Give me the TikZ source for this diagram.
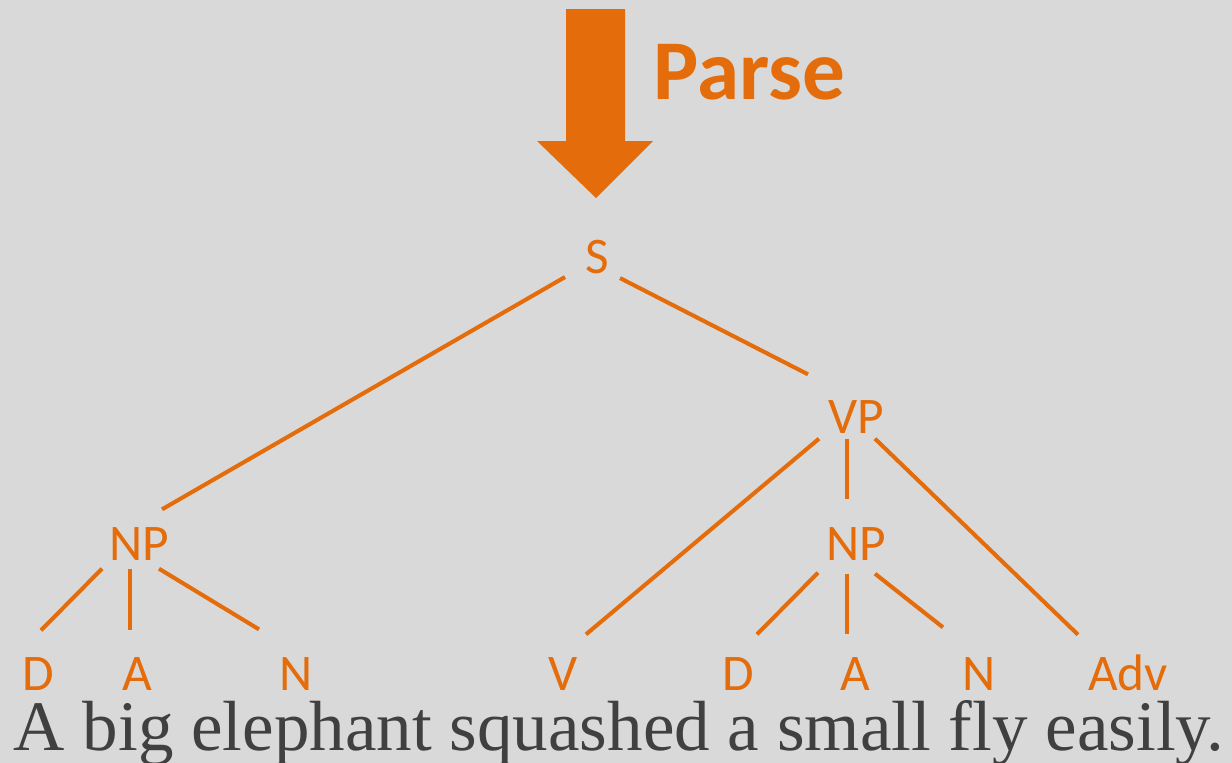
\documentclass[tikz,border=0pt]{standalone}
\usepackage{fontspec}
\setmainfont{Liberation Serif}
\newfontfamily\labelfont{Carlito}
\definecolor{parseorange}{HTML}{E46C0A}
\definecolor{slidegray}{HTML}{D9D9D9}
\definecolor{wordgray}{HTML}{404040}
\tikzset{
	cat/.style={anchor=base, inner sep=0pt, text=parseorange,
		font=\labelfont\fontsize{14.6}{16}\selectfont},
	branch/.style={parseorange, line width=1.15pt}
}
\begin{document}
\begin{tikzpicture}[x=0.01cm, y=-0.01cm]
	\fill[slidegray] (0,0) rectangle (1232,763);
	\useasboundingbox (0,0) rectangle (1232,763);
	% parse arrow
	\fill[parseorange] (566,9) -- (625,9) -- (625,141) -- (653,141) -- (596,198)
		-- (537,141) -- (566,141) -- cycle;
	\node[anchor=base west, inner sep=0pt, text=parseorange,
		font=\labelfont\bfseries\fontsize{24.2}{27}\selectfont] (parse) at (653,99) {Parse};
	% categories
	\node[cat] (S) at (597,273) {S};
	\node[cat] (VP) at (856,433) {VP};
	\node[cat] (NP1) at (139,560) {NP};
	\node[cat] (NP2) at (856,560) {NP};
	\node[cat] (D1) at (38,690) {D};
	\node[cat] (A1) at (137,690) {A};
	\node[cat] (N1) at (296,690) {N};
	\node[cat] (V) at (563,690) {V};
	\node[cat] (D2) at (738,690) {D};
	\node[cat] (A2) at (855,690) {A};
	\node[cat] (N2) at (979,690) {N};
	\node[cat] (Adv) at (1128,690) {Adv};
	% sentence
	\node[anchor=base, inner sep=0pt, text=wordgray,
		font=\fontsize{20.2}{24}\selectfont] (words) at (619,750)
		{A big elephant squashed a small fly easily.};
	% branches
	\draw[branch] ([shift={(-32,3)}]S.south) -- ([shift={(23,-17)}]NP1.north);
	\draw[branch] ([shift={(23,4)}]S.south) -- ([shift={(-48,-25)}]VP.north);
	\draw[branch] ([shift={(-37,5)}]VP.south) -- ([shift={(23,-22)}]V.north);
	\draw[branch] ([shift={(-9,5)}]VP.south) -- ([shift={(-9,-27)}]NP2.north);
	\draw[branch] ([shift={(19,5)}]VP.south) -- ([shift={(-50,-19)}]Adv.north);
	\draw[branch] ([shift={(-37,8)}]NP1.south) -- ([shift={(3,-26)}]D1.north);
	\draw[branch] ([shift={(-9,8)}]NP1.south) -- ([shift={(-7,-26)}]A1.north);
	\draw[branch] ([shift={(20,8)}]NP1.south) -- ([shift={(-37,-27)}]N1.north);
	\draw[branch] ([shift={(-38,12)}]NP2.south) -- ([shift={(19,-22)}]D2.north);
	\draw[branch] ([shift={(-9,13)}]NP2.south) -- ([shift={(-8,-22)}]A2.north);
	\draw[branch] ([shift={(19,13)}]NP2.south) -- ([shift={(-36,-29)}]N2.north);
\end{tikzpicture}
\end{document}
